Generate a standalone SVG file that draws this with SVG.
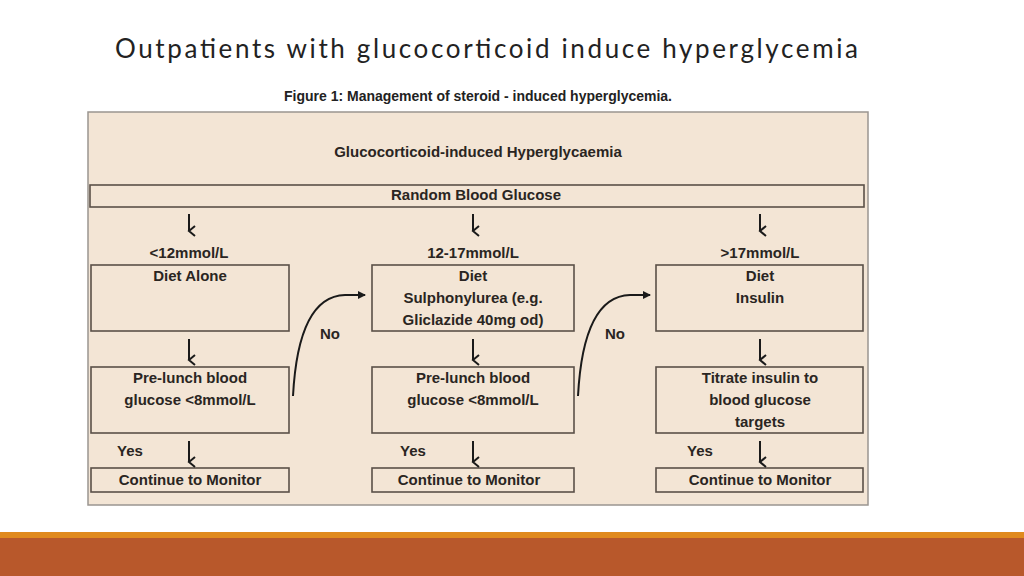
<svg xmlns="http://www.w3.org/2000/svg" width="1024" height="576" viewBox="0 0 1024 576">
<style>
.b{fill:none;stroke:#5a5048;stroke-width:1.6}
.t{font-family:"Liberation Sans",Arial,sans-serif;font-weight:bold;font-size:15px;fill:#2a2522;text-anchor:middle}
.c{fill:none;stroke:#1a1a1a;stroke-width:2}
</style>
<defs>
<marker id="ah" markerWidth="8" markerHeight="8" refX="7" refY="4" orient="auto" markerUnits="userSpaceOnUse"><path d="M0,0 L8,4 L0,8 Z" fill="#1a1a1a"/></marker>
<marker id="dn" markerWidth="12" markerHeight="10" refX="6" refY="8" orient="auto-start-reverse" markerUnits="userSpaceOnUse"><path d="M1,2 L6,8 L11,2" fill="none" stroke="#1a1a1a" stroke-width="2"/></marker>
</defs>
<rect width="1024" height="576" fill="#fff"/>
<text x="115" y="58" font-family="Lato,'Open Sans',sans-serif" font-size="26" fill="#222" textLength="743">Outpatients with glucocorticoid induce hyperglycemia</text>
<text x="284" y="101" font-family="'Liberation Sans',Arial,sans-serif" font-weight="bold" font-size="14" fill="#222" textLength="388">Figure 1: Management of steroid - induced hyperglycemia.</text>
<rect x="88" y="112" width="780" height="393" fill="#f3e5d5" stroke="#9a9590" stroke-width="1.5"/>
<text class="t" x="478" y="157">Glucocorticoid-induced Hyperglycaemia</text>
<g id="random"><rect class="b" x="90" y="185" width="774" height="22"/><text class="t" x="476" y="200">Random Blood Glucose</text></g>
<g id="labels">
<text class="t" x="189" y="258">&lt;12mmol/L</text>
<text class="t" x="473" y="258">12-17mmol/L</text>
<text class="t" x="760" y="258">&gt;17mmol/L</text>
<text class="t" x="130" y="456">Yes</text>
<text class="t" x="413" y="456">Yes</text>
<text class="t" x="700" y="456">Yes</text>
<text class="t" x="330" y="339">No</text>
<text class="t" x="615" y="339">No</text>
</g>
<g id="n1"><rect class="b" x="91" y="265" width="198" height="66"/><text class="t" x="190" y="281">Diet Alone</text></g>
<g id="n2"><rect class="b" x="372" y="265" width="202" height="66"/><text class="t" x="473" y="281">Diet</text><text class="t" x="473" y="303">Sulphonylurea (e.g.</text><text class="t" x="473" y="325">Gliclazide 40mg od)</text></g>
<g id="n3"><rect class="b" x="656" y="265" width="207" height="66"/><text class="t" x="760" y="281">Diet</text><text class="t" x="760" y="303">Insulin</text></g>
<g id="n4"><rect class="b" x="91" y="367" width="198" height="66"/><text class="t" x="190" y="383">Pre-lunch blood</text><text class="t" x="190" y="405">glucose &lt;8mmol/L</text></g>
<g id="n5"><rect class="b" x="372" y="367" width="202" height="66"/><text class="t" x="473" y="383">Pre-lunch blood</text><text class="t" x="473" y="405">glucose &lt;8mmol/L</text></g>
<g id="n6"><rect class="b" x="656" y="367" width="207" height="66"/><text class="t" x="760" y="383">Titrate insulin to</text><text class="t" x="760" y="405">blood glucose</text><text class="t" x="760" y="427">targets</text></g>
<g id="n7"><rect class="b" x="91" y="468" width="198" height="24"/><text class="t" x="190" y="485">Continue to Monitor</text></g>
<g id="n8"><rect class="b" x="372" y="468" width="202" height="24"/><text class="t" x="469" y="485">Continue to Monitor</text></g>
<g id="n9"><rect class="b" x="656" y="468" width="207" height="24"/><text class="t" x="760" y="485">Continue to Monitor</text></g>
<g id="connectors">
<path class="c" d="M189,214 V231" marker-end="url(#dn)"/>
<path class="c" d="M473,214 V231" marker-end="url(#dn)"/>
<path class="c" d="M760,214 V231" marker-end="url(#dn)"/>
<path class="c" d="M189,339 V360" marker-end="url(#dn)"/>
<path class="c" d="M473,339 V360" marker-end="url(#dn)"/>
<path class="c" d="M760,339 V360" marker-end="url(#dn)"/>
<path class="c" d="M189,441 V462" marker-end="url(#dn)"/>
<path class="c" d="M473,441 V462" marker-end="url(#dn)"/>
<path class="c" d="M760,441 V462" marker-end="url(#dn)"/>
<path class="c" d="M293,396 C296,340 310,296 345,295 L365,295" marker-end="url(#ah)"/>
<path class="c" d="M578,396 C581,340 595,296 630,295 L650,295" marker-end="url(#ah)"/>
</g>
<rect x="0" y="532" width="1024" height="6" fill="#e08a1e"/>
<rect x="0" y="538" width="1024" height="38" fill="#b8582b"/>
</svg>
